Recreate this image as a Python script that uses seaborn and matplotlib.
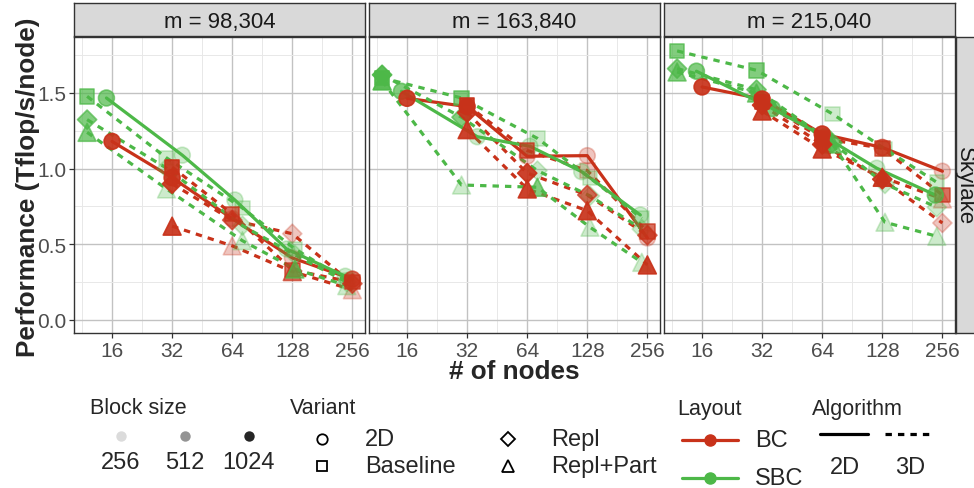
import numpy as np
import pandas as pd
import matplotlib
matplotlib.use("Agg")
import matplotlib.pyplot as plt
import seaborn as sns
from matplotlib.ticker import NullFormatter

sns.set_theme(style="ticks")
plt.rcParams["font.family"] = ["Liberation Sans", "DejaVu Sans"]

# ==========================================
# DATA
# ==========================================

panels = ["m = 98,304", "m = 163,840", "m = 215,040"]
row_label = "Skylake"

bc_2d_nodes = [16, 32, 64, 128, 256]
bc_3d_nodes = [32, 64, 128, 256]
sbc_2d_nodes = [15, 36, 66, 120, 236]
sbc_3d_nodes = [12, 30, 72, 132, 240]

# one row per panel, Tflop/s/node
bc_2d_perf = [[1.18, 0.94, 0.67, 0.41, 0.27],
              [1.465, 1.41, 1.082, 1.086, 0.542],
              [1.54, 1.46, 1.229, 1.14, 0.983]]
bc_2d_block = [[1024, 1024, 256, 256, 512],
               [1024, 1024, 256, 256, 256],
               [1024, 1024, 1024, 512, 256]]

bc_base_perf = [[1.01, 0.70, 0.33, 0.25],
                [1.42, 1.12, 0.987, 0.584],
                [1.441, 1.20, 1.135, 0.826]]
bc_base_block = [[1024, 512, 512, 512],
                 [1024, 512, 256, 512],
                 [1024, 1024, 512, 512]]

bc_repl_perf = [[0.90, 0.66, 0.57, 0.24],
                [1.37, 0.97, 0.826, 0.56],
                [1.42, 1.16, 0.93, 0.641]]
bc_repl_block = [[1024, 512, 256, 512],
                 [1024, 1024, 512, 512],
                 [1024, 1024, 1024, 256]]

bc_part_perf = [[0.62, 0.49, 0.32, 0.20],
                [1.258, 0.866, 0.722, 0.364],
                [1.381, 1.13, 0.943, 0.80]]
bc_part_block = [[1024, 256, 512, 256],
                 [1024, 1024, 1024, 1024],
                 [1024, 1024, 1024, 256]]

sbc_2d_perf = [[1.467, 1.089, 0.793, 0.469, 0.289],
               [1.511, 1.211, 1.148, 0.98, 0.694],
               [1.644, 1.397, 1.21, 1.003, 0.826]]
sbc_2d_block = [[512, 256, 256, 256, 256],
                [512, 256, 256, 256, 256],
                [512, 512, 512, 256, 512]]

sbc_base_perf = [[1.478, 1.071, 0.74, 0.469, 0.26],
                 [1.60, 1.467, 1.20, 0.939, 0.672],
                 [1.778, 1.65, 1.362, 1.13, 0.91]]
sbc_base_block = [[512, 256, 256, 256, 256],
                  [1024, 512, 256, 256, 256],
                  [512, 512, 256, 256, 256]]

sbc_repl_perf = [[1.324, 1.003, 0.623, 0.43, 0.25],
                 [1.62, 1.34, 0.987, 0.82, 0.601],
                 [1.661, 1.522, 1.17, 0.899, 0.745]]
sbc_repl_block = [[512, 256, 256, 256, 256],
                  [1024, 512, 256, 256, 256],
                  [512, 512, 512, 256, 256]]

sbc_part_perf = [[1.24, 0.866, 0.524, 0.337, 0.227],
                 [1.58, 0.892, 0.877, 0.613, 0.381],
                 [1.639, 1.50, 1.163, 0.646, 0.553]]
sbc_part_block = [[512, 256, 256, 512, 256],
                  [1024, 256, 512, 256, 256],
                  [512, 512, 512, 256, 256]]

series = [
    ("BC", "2D", "2D", bc_2d_nodes, bc_2d_perf, bc_2d_block),
    ("BC", "Baseline", "3D", bc_3d_nodes, bc_base_perf, bc_base_block),
    ("BC", "Repl", "3D", bc_3d_nodes, bc_repl_perf, bc_repl_block),
    ("BC", "Repl+Part", "3D", bc_3d_nodes, bc_part_perf, bc_part_block),
    ("SBC", "2D", "2D", sbc_2d_nodes, sbc_2d_perf, sbc_2d_block),
    ("SBC", "Baseline", "3D", sbc_3d_nodes, sbc_base_perf, sbc_base_block),
    ("SBC", "Repl", "3D", sbc_3d_nodes, sbc_repl_perf, sbc_repl_block),
    ("SBC", "Repl+Part", "3D", sbc_3d_nodes, sbc_part_perf, sbc_part_block),
]

rows = []
for layout, variant, algo, nodes, perf, block in series:
    for p, panel in enumerate(panels):
        for n, v, b in zip(nodes, perf[p], block[p]):
            rows.append({"panel": panel, "layout": layout,
                         "variant": variant, "algorithm": algo,
                         "nodes": n, "perf": v, "block": b})
df = pd.DataFrame(rows)

# ==========================================
# STYLE
# ==========================================

palette = {"BC": "#C8321A", "SBC": "#4DB848"}
dashes = {"2D": "", "3D": (2.0, 1.9)}
markers = {"2D": "o", "Baseline": "s", "Repl": "D", "Repl+Part": "^"}
sizes = {"2D": 130, "Baseline": 110, "Repl": 95, "Repl+Part": 165}
alphas = {256: 0.28, 512: 0.7, 1024: 0.92}

W, H = 974, 489
fig = plt.figure(figsize=(W / 100, H / 100), dpi=100)

lefts = [74, 369, 664]
pw = 291
top, bottom = 38, 334

for i, panel in enumerate(panels):

    ax = fig.add_axes([lefts[i] / W, 1 - bottom / H, pw / W, (bottom - top) / H])
    sub = df[df["panel"] == panel]

    ax.set_xscale("log", base=2)

    sns.lineplot(
        data=sub, x="nodes", y="perf",
        hue="layout", style="algorithm", units="variant",
        estimator=None, palette=palette, dashes=dashes,
        lw=2.3, legend=False, ax=ax
    )

    for b in [256, 512, 1024]:
        s = sub[sub["block"] == b]
        if len(s) == 0:
            continue
        sns.scatterplot(
            data=s, x="nodes", y="perf",
            hue="layout", style="variant", size="variant",
            hue_order=["BC", "SBC"],
            palette=palette, markers=markers, sizes=sizes,
            alpha=alphas[b], edgecolor="face", linewidth=1.2,
            legend=False, ax=ax, zorder=3
        )

    ax.set_xlim(2 ** 3.367, 2 ** 8.21)
    ax.set_ylim(-0.086, 1.87)
    ax.set_xticks([16, 32, 64, 128, 256])
    ax.set_xticklabels(["16", "32", "64", "128", "256"])
    ax.set_xticks(2 ** np.arange(3.5, 8.5, 1.0), minor=True)
    ax.xaxis.set_minor_formatter(NullFormatter())
    ax.set_yticks([0.0, 0.5, 1.0, 1.5])
    ax.set_yticklabels(["0.0", "0.5", "1.0", "1.5"])
    ax.set_yticks([0.25, 0.75, 1.25, 1.75], minor=True)
    ax.yaxis.set_minor_formatter(NullFormatter())

    ax.grid(which="major", color="#c2c2c2", lw=1.0)
    ax.grid(which="minor", color="#e8e8e8", lw=0.7)
    ax.set_axisbelow(True)

    ax.tick_params(which="major", length=3.5, width=0.9, color="#333333",
                   labelsize=15, labelcolor="#4d4d4d", pad=2)
    ax.tick_params(which="minor", length=0)
    if i > 0:
        ax.tick_params(axis="y", left=False, labelleft=False)

    for sp in ax.spines.values():
        sp.set_color("#333333")
        sp.set_linewidth(1.0)

    ax.set_xlabel("")
    ax.set_ylabel("")

    # top strip
    sax = fig.add_axes([lefts[i] / W, 1 - 37 / H, pw / W, 33 / H])
    sax.set_facecolor("#d9d9d9")
    sax.set_xticks([])
    sax.set_yticks([])
    for sp in sax.spines.values():
        sp.set_color("#333333")
        sp.set_linewidth(1.0)
    sax.text(0.5, 0.45, panel, ha="center", va="center",
             fontsize=16, color="#1a1a1a", transform=sax.transAxes)

# right strip
rax = fig.add_axes([956 / W, 1 - bottom / H, 24 / W, (bottom - top) / H])
rax.set_facecolor("#d9d9d9")
rax.set_xticks([])
rax.set_yticks([])
for sp in rax.spines.values():
    sp.set_color("#333333")
    sp.set_linewidth(1.0)
fig.text(964 / W, 1 - 186 / H, row_label, rotation=-90, ha="center",
         va="center", fontsize=16, color="#1a1a1a")

fig.text(28 / W, 1 - 187 / H, "Performance (Tflop/s/node)", rotation=90,
         ha="center", va="center", fontsize=18.8, fontweight="bold")
fig.text(514 / W, 1 - 372 / H, "# of nodes", ha="center", va="center",
         fontsize=18.8, fontweight="bold")

# ==========================================
# LEGEND
# ==========================================

lax = fig.add_axes([0, 0, 1, 100 / H])
lax.set_xlim(0, W)
lax.set_ylim(H, H - 100)
lax.axis("off")

tfs = 15.5
lfs = 17

lax.text(90, 409, "Block size", fontsize=tfs, va="center", ha="left")
for x, b, g in zip([121, 185, 249], [256, 512, 1024], [0.14, 0.42, 0.85]):
    lax.plot([x], [437], "o", color="black", alpha=g, ms=7.5, mec="none")
    lax.text(x, 463, str(b), fontsize=lfs, ha="center", va="center")

lax.text(290, 409, "Variant", fontsize=tfs, va="center", ha="left")
var_pos = {"2D": (322, 440), "Baseline": (322, 467),
           "Repl": (508, 440), "Repl+Part": (508, 467)}
for v, (x, y) in var_pos.items():
    lax.plot([x], [y], markers[v], mfc="none", mec="black", mew=1.3,
             ms=7.5 if v != "Repl+Part" else 8.5)
    lax.text(x + 43, y, v, fontsize=lfs, ha="left", va="center")

lax.text(677, 409, "Layout", fontsize=tfs, va="center", ha="left")
for (lay, y) in [("BC", 441), ("SBC", 479)]:
    lax.plot([682, 738], [y, y], color=palette[lay], lw=2.3)
    lax.plot([710], [y], "o", color=palette[lay], ms=8)
    lax.text(755, y, lay, fontsize=lfs, ha="left", va="center")

lax.text(812, 409, "Algorithm", fontsize=tfs, va="center", ha="left")
lax.plot([820, 868], [435, 435], color="black", lw=2.3)
lax.plot([885, 932], [435, 435], color="black", lw=2.3, dashes=dashes["3D"])
lax.text(845, 468, "2D", fontsize=lfs, ha="center", va="center")
lax.text(910, 468, "3D", fontsize=lfs, ha="center", va="center")

fig.savefig("out.png", dpi=100)
